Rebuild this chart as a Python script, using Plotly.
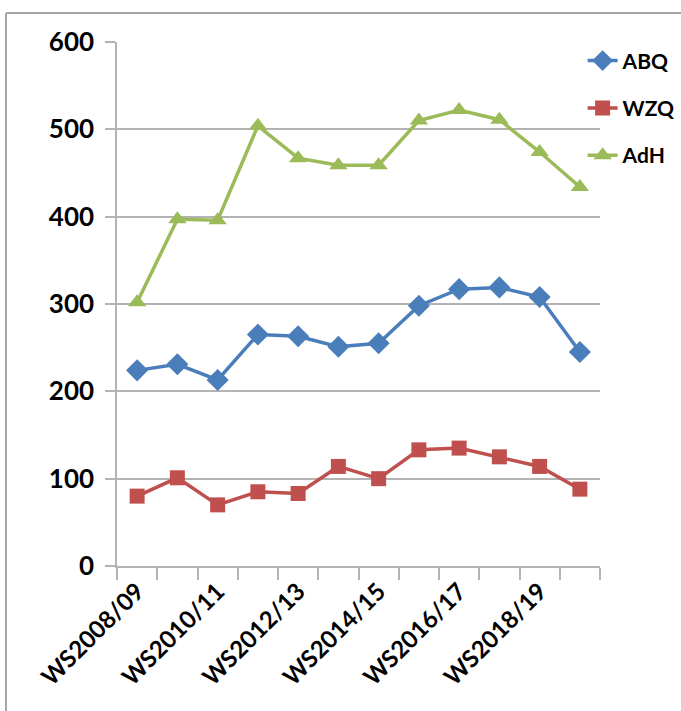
import plotly.graph_objects as go

# Winter semesters (categories on the x axis)
semesters = [
    "WS2008/09", "WS2009/10", "WS2010/11", "WS2011/12", "WS2012/13", "WS2013/14",
    "WS2014/15", "WS2015/16", "WS2016/17", "WS2017/18", "WS2018/19", "WS2019/20",
]
# only every other semester is labelled
shown_labels = [s if i % 2 == 0 else "" for i, s in enumerate(semesters)]

abq = [224, 231, 213, 265, 263, 251, 255, 298, 317, 319, 308, 245]
wzq = [80, 101, 70, 85, 83, 114, 100, 133, 135, 125, 114, 88]
adh = [302, 397, 396, 504, 467, 459, 459, 510, 522, 511, 474, 434]

y_ticks = [0, 100, 200, 300, 400, 500, 600]

series = [
    ("ABQ", abq, "#4a7ebb", "diamond", 17),
    ("WZQ", wzq, "#c0504d", "square", 15),
    ("AdH", adh, "#9bbb59", "triangle-up", 16),
]

FONT = "Lato"
GRID = "#b3b3b3"

fig = go.Figure()
for name, vals, color, symbol, size in series:
    fig.add_trace(go.Scatter(
        x=semesters, y=vals, name=name, mode="lines+markers",
        legendgroup=name,
        line=dict(color=color, width=3.5),
        marker=dict(symbol=symbol, size=size, color=color),
    ))

W, H = 681, 711
ml, mr, mt, mb = 117, 81, 42, 145
pw, ph = W - ml - mr, H - mt - mb

def px_to_paper(px, py):
    return (px - ml) / pw, (H - mb - py) / ph

# frame around the chart (top and left edges are visible)
fx0, fy0 = px_to_paper(6, 13)
fx1, fy1 = px_to_paper(W + 20, H + 20)
frame = dict(type="line", xref="paper", yref="paper",
             line=dict(color="#a6a6a6", width=2), layer="above")

fig.update_layout(
    width=W, height=H,
    margin=dict(l=ml, r=mr, t=mt, b=mb, autoexpand=False),
    paper_bgcolor="white", plot_bgcolor="white",
    font=dict(family=FONT, color="black", weight="bold"),
    showlegend=True,
    legend=dict(
        x=0.964, y=1.003, xanchor="left", yanchor="top",
        font=dict(family=FONT, size=21, color="black", weight="bold"),
        bgcolor="rgba(0,0,0,0)",
        traceorder="grouped", tracegroupgap=17,
        itemwidth=30,
    ),
    shapes=[
        dict(frame, x0=fx0, y0=fy0, x1=fx1, y1=fy0),
        dict(frame, x0=fx0, y0=fy0, x1=fx0, y1=fy1),
    ],
    xaxis=dict(
        type="category",
        tickmode="array", tickvals=semesters, ticktext=shown_labels,
        tickangle=-45, tickson="boundaries",
        ticks="outside", ticklen=12, tickwidth=1.5, tickcolor=GRID,
        showline=True, linecolor=GRID, linewidth=1.5,
        showgrid=False, zeroline=False,
        tickfont=dict(family=FONT, size=24, color="black", weight="bold"),
        range=[-0.5, 11.5],
    ),
    yaxis=dict(
        range=[0, 600], tickvals=y_ticks,
        ticks="outside", ticklen=10, tickwidth=1.5, tickcolor=GRID,
        showgrid=True, gridcolor=GRID, gridwidth=1.5,
        showline=True, linecolor=GRID, linewidth=1.5,
        zeroline=False,
        tickfont=dict(family=FONT, size=26, color="black", weight="bold"),
        ticklabelstandoff=6,
    ),
)

fig.write_html("out.html")
